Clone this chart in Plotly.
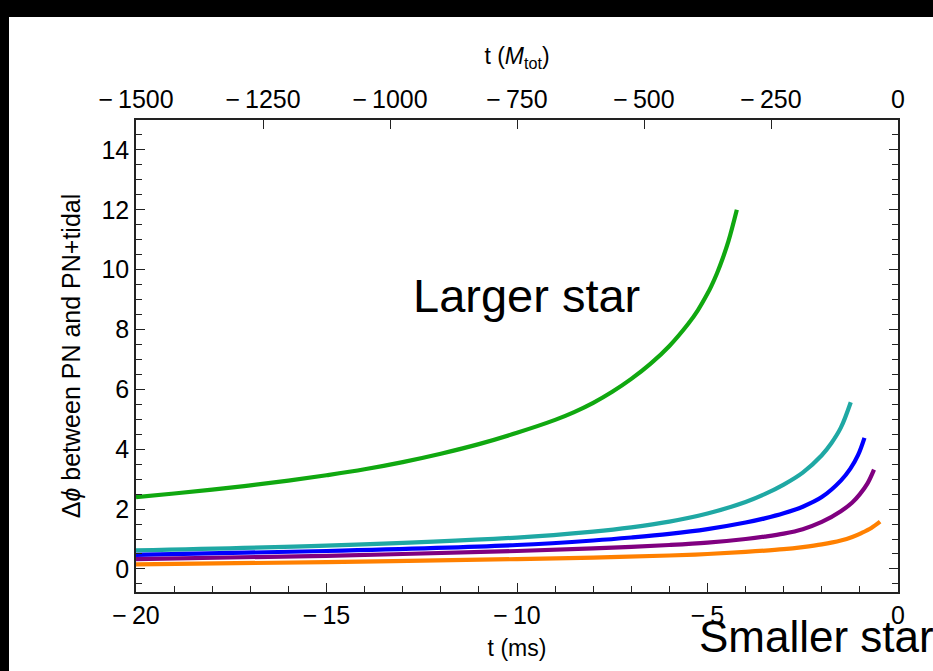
import plotly.graph_objects as go

# Phase difference between PN and PN+tidal waveforms versus time to merger (ms)
t_green = [-20, -19, -18, -17, -16, -15, -14, -13, -12, -11, -10, -9, -8.5, -8, -7.5, -7, -6.5, -6,
           -5.5, -5.25, -5, -4.9, -4.75, -4.6, -4.45, -4.23]
y_green = [2.40, 2.52, 2.65, 2.79, 2.95, 3.13, 3.33, 3.57, 3.85, 4.17, 4.55, 4.98, 5.24, 5.55, 5.92, 6.35,
           6.85, 7.45, 8.2, 8.65, 9.2, 9.45, 9.88, 10.38, 10.95, 12.0]

t_cyan = [-20, -15, -10, -8, -7, -6, -5, -4, -3.5, -3, -2.5, -2, -1.75, -1.5, -1.24]
y_cyan = [0.62, 0.78, 1.05, 1.25, 1.39, 1.58, 1.85, 2.24, 2.5, 2.82, 3.22, 3.8, 4.2, 4.72, 5.57]

t_blue = [-20, -15, -10, -8, -7, -6, -5, -4, -3.5, -3, -2.5, -2, -1.5, -1.25, -1.05, -0.88]
y_blue = [0.47, 0.6, 0.8, 0.95, 1.05, 1.17, 1.33, 1.55, 1.69, 1.86, 2.08, 2.4, 2.95, 3.35, 3.8, 4.38]

t_purple = [-20, -15, -10, -8, -7, -6, -5, -4, -3.5, -3, -2.5, -2, -1.5, -1.2, -1.0, -0.8, -0.63]
y_purple = [0.33, 0.44, 0.6, 0.69, 0.74, 0.8, 0.88, 1.0, 1.08, 1.18, 1.33, 1.57, 1.93, 2.22, 2.5, 2.86, 3.32]

t_orange = [-20, -15, -10, -8, -6, -5, -4, -3, -2.5, -2, -1.5, -1.2, -0.96, -0.7, -0.47]
y_orange = [0.15, 0.23, 0.33, 0.38, 0.45, 0.5, 0.57, 0.66, 0.73, 0.82, 0.95, 1.07, 1.2, 1.37, 1.58]

series = [
    (t_green, y_green, "#10a810"),
    (t_cyan, y_cyan, "#1fa8a4"),
    (t_blue, y_blue, "#0000ff"),
    (t_purple, y_purple, "#800080"),
    (t_orange, y_orange, "#ff8000"),
]

MINUS = "\u2212\u2009"
ms_ticks = [-20, -15, -10, -5, 0]
ms_labels = [MINUS + "20", MINUS + "15", MINUS + "10", MINUS + "5", "0"]
m_ticks = [-1500, -1250, -1000, -750, -500, -250, 0]
m_labels = [MINUS + "1500", MINUS + "1250", MINUS + "1000", MINUS + "750", MINUS + "500", MINUS + "250", "0"]
y_ticks = [0, 2, 4, 6, 8, 10, 12, 14]

W, H = 933, 671
L, R, T, B = 136, 35, 120, 79

fig = go.Figure()
for tx, ty, col in series:
    fig.add_trace(go.Scatter(x=tx, y=ty, mode="lines",
                             line=dict(color=col, width=4.2, shape="spline", smoothing=1.0),
                             showlegend=False, hoverinfo="skip"))

# empty trace so the top (M_tot) axis is drawn
fig.add_trace(go.Scatter(x=[-1500, 0], y=[None, None], xaxis="x2", yaxis="y", showlegend=False,
                         hoverinfo="skip"))

font = dict(family="Liberation Sans, Arial, sans-serif", size=25, color="#000")
axcol = "#222"

fig.update_layout(
    width=W, height=H,
    margin=dict(l=L, r=R, t=T, b=B, pad=0),
    paper_bgcolor="white", plot_bgcolor="white",
    font=font,
    xaxis=dict(range=[-20, 0], tickvals=ms_ticks, ticktext=ms_labels, ticks="inside", ticklen=9,
               tickwidth=1.3, tickcolor=axcol, showline=True, linecolor=axcol, linewidth=1.5,
               showgrid=False, zeroline=False, mirror=False, tickfont=dict(size=25),
               minor=dict(dtick=1, ticks="inside", ticklen=6, tickcolor=axcol, tickwidth=1.2, showgrid=False),
               title=dict(text="t (ms)", standoff=12, font=dict(size=23))),
    xaxis2=dict(range=[-1500, 0], overlaying="x", side="top", tickvals=m_ticks, ticktext=m_labels,
                ticks="inside", ticklen=9, tickwidth=1.3, tickcolor=axcol, showline=True, linecolor=axcol,
                linewidth=1.5, showgrid=False, zeroline=False, tickfont=dict(size=25),
                title=dict(text="t (<i>M</i><sub>tot</sub>)", standoff=14, font=dict(size=23))),
    yaxis=dict(range=[-0.77, 15.0], tickvals=y_ticks, ticks="inside", ticklen=9, tickwidth=1.3,
               tickcolor=axcol, showline=True, linecolor=axcol, linewidth=1.5, mirror="ticks",
               showgrid=False, zeroline=False, tickfont=dict(size=25),
               minor=dict(dtick=0.5, tick0=0, ticks="inside", ticklen=6, tickcolor=axcol, tickwidth=1.2,
                          showgrid=False),
               title=dict(text="\u0394<i>\u03d5</i> between PN and PN+tidal", standoff=14, font=dict(size=25))),
)

# dark band along the top and left edges of the page
def px_to_paper_x(px):
    return (px - L) / (W - L - R)

def px_to_paper_y(py):
    return (H - B - py) / (H - T - B)

fig.add_shape(type="rect", xref="paper", yref="paper", x0=px_to_paper_x(0), x1=px_to_paper_x(W),
              y0=px_to_paper_y(17), y1=px_to_paper_y(0), fillcolor="black", line_width=0, layer="above")
fig.add_shape(type="rect", xref="paper", yref="paper", x0=px_to_paper_x(0), x1=px_to_paper_x(9),
              y0=px_to_paper_y(H), y1=px_to_paper_y(0), fillcolor="black", line_width=0, layer="above")

fig.add_annotation(text="Larger star", x=px_to_paper_x(526), y=px_to_paper_y(295), xref="paper", yref="paper",
                   showarrow=False, font=dict(size=47, color="black"), xanchor="center", yanchor="middle")
fig.add_annotation(text="Smaller star", x=px_to_paper_x(697), y=px_to_paper_y(636), xref="paper", yref="paper",
                   showarrow=False, font=dict(size=44, color="black"), xanchor="left", yanchor="middle")

fig.write_html("out.html")
